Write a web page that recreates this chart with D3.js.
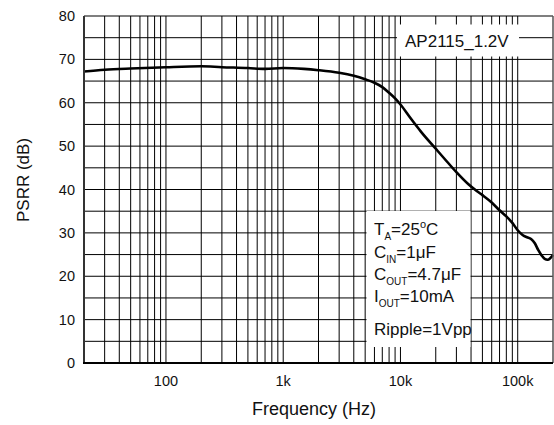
<!DOCTYPE html>
<html><head><meta charset="utf-8">
<script src="https://cdn.jsdelivr.net/npm/d3@7"></script>
<style>html,body{margin:0;padding:0;background:#fff;}svg{display:block;font-family:"Liberation Sans",Arial,sans-serif;}</style>
</head><body>
<svg id="c" width="554" height="425"></svg>
<script>
const freqs = [20,30,50,100,200,300,500,700,1000,1500,2000,3000,4000,5000,6000,7000,8000,9000,10000,12300,15000,20000,25000,30000,38000,45000,50000,60000,70000,80000,90000,100000,110000,120000,130000,140000,150000,160000,170000,180000,190000,200000];
const psrr  = [67.2,67.6,67.9,68.2,68.4,68.2,68.0,67.8,68.0,67.8,67.5,66.9,66.2,65.4,64.6,63.6,62.3,61.0,59.6,56.3,53.3,49.4,46.4,44.0,41.2,39.6,38.7,37.0,35.2,33.8,32.3,30.6,29.5,29.0,28.6,27.6,26.0,24.8,24.0,23.8,24.2,24.9];
const xTickValues = [100,1000,10000,100000];
const xTickLabels = ["100","1k","10k","100k"];
const yTickValues = [0,10,20,30,40,50,60,70,80];
const yTickLabels = ["0","10","20","30","40","50","60","70","80"];
const partLabel = "AP2115_1.2V";

const svg = d3.select("#c");
const L=84,R=553,T=16,B=363;
const x = d3.scaleLog().domain([20,200000]).range([L,R]);
const y = d3.scaleLinear().domain([0,80]).range([B,T]);

// grid
const g = svg.append("g").attr("stroke","#000").attr("stroke-width",1);
x.ticks().filter(v=>v>20&&v<200000).forEach(v=>{
  g.append("line").attr("x1",x(v)).attr("x2",x(v)).attr("y1",T).attr("y2",B);
});
d3.range(5,80,5).forEach(v=>{
  g.append("line").attr("x1",L).attr("x2",R).attr("y1",y(v)).attr("y2",y(v));
});

// white boxes
svg.append("rect").attr("x",397).attr("y",24.5).attr("width",122).attr("height",32).attr("fill","#fff");
svg.append("rect").attr("x",366.5).attr("y",211).attr("width",104).attr("height",136).attr("fill","#fff");

// curve
const line = d3.line().x((d,i)=>x(freqs[i])).y(d=>y(d)).curve(d3.curveMonotoneX);
svg.append("path").datum(psrr).attr("d",line).attr("fill","none").attr("stroke","#000").attr("stroke-width",2.6).attr("stroke-linejoin","round");

// borders
svg.append("line").attr("x1",L).attr("x2",R).attr("y1",T).attr("y2",T).attr("stroke","#000").attr("stroke-width",1.2);
svg.append("line").attr("x1",R).attr("x2",R).attr("y1",T).attr("y2",B).attr("stroke","#555").attr("stroke-width",1.5);
svg.append("line").attr("x1",L).attr("x2",L).attr("y1",T).attr("y2",B+1).attr("stroke","#333").attr("stroke-width",2);
svg.append("line").attr("x1",L-1).attr("x2",R).attr("y1",B).attr("y2",B).attr("stroke","#000").attr("stroke-width",2.2);

// tick labels
const tl = svg.append("g").attr("font-size",14.5).attr("fill","#111");
xTickValues.forEach((v,i)=>{
  tl.append("text").attr("x",x(v)).attr("y",386).attr("text-anchor","middle").text(xTickLabels[i]);
});
yTickValues.forEach((v,i)=>{
  tl.append("text").attr("x",75).attr("y",y(v)+5).attr("text-anchor","end").text(yTickLabels[i]);
});

// axis titles
svg.append("text").attr("x",314).attr("y",415).attr("text-anchor","middle").attr("font-size",18).attr("fill","#111").text("Frequency (Hz)");
svg.append("text").attr("transform","translate(29,180) rotate(-90)").attr("text-anchor","middle").attr("font-size",17).attr("fill","#111").text("PSRR (dB)");

// part label
svg.append("text").attr("x",405).attr("y",46.5).attr("font-size",17).attr("fill","#111").text(partLabel);

// conditions
const cond = svg.append("g").attr("font-size",17).attr("fill","#111");
function addLine(yy, parts){
  const t = cond.append("text").attr("x",374).attr("y",yy);
  parts.forEach(p=>{
    const s = t.append("tspan").text(p.t);
    if(p.sub){ s.attr("font-size",10).attr("dy",5); }
    if(p.sup){ s.attr("font-size",11).attr("dy",-7); }
    if(p.back){ s.attr("dy",p.back); }
  });
}
addLine(235,[{t:"T"},{t:"A",sub:true},{t:"=25",back:-5},{t:"o",sup:true},{t:"C",back:7}]);
addLine(257.5,[{t:"C"},{t:"IN",sub:true},{t:"=1μF",back:-5}]);
addLine(280,[{t:"C"},{t:"OUT",sub:true},{t:"=4.7μF",back:-5}]);
addLine(302,[{t:"I"},{t:"OUT",sub:true},{t:"=10mA",back:-5}]);
addLine(335,[{t:"Ripple=1Vpp"}]);
</script>
</body></html>
